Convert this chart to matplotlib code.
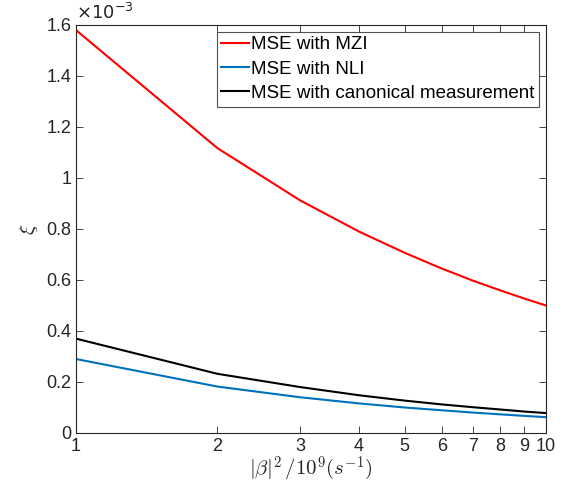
import matplotlib
matplotlib.use("Agg")
import matplotlib.pyplot as plt
from matplotlib.ticker import FixedLocator, FixedFormatter, NullLocator, FuncFormatter

# 数据
beta_sq = [1, 2, 3, 4, 5, 6, 7, 8, 9, 10]
mse_mzi = [1.58e-3, 1.117e-3, 0.912e-3, 0.79e-3, 0.707e-3, 0.645e-3, 0.597e-3, 0.559e-3, 0.527e-3, 0.50e-3]
mse_nli = [0.29e-3, 0.182e-3, 0.14e-3, 0.116e-3, 0.10e-3, 0.089e-3, 0.08e-3, 0.073e-3, 0.067e-3, 0.062e-3]
mse_can = [0.37e-3, 0.232e-3, 0.18e-3, 0.148e-3, 0.127e-3, 0.112e-3, 0.101e-3, 0.092e-3, 0.084e-3, 0.078e-3]
x_ticks = [1, 2, 3, 4, 5, 6, 7, 8, 9, 10]
y_ticks = [0, 0.2e-3, 0.4e-3, 0.6e-3, 0.8e-3, 1.0e-3, 1.2e-3, 1.4e-3, 1.6e-3]

plt.rcParams["font.family"] = ["Liberation Sans", "DejaVu Sans"]
plt.rcParams["mathtext.fontset"] = "cm"

AX_COLOR = "#262626"

fig = plt.figure(figsize=(5.74, 4.95), dpi=100)
ax = fig.add_axes([0.1324, 0.1253, 0.8188, 0.8242])

ax.plot(beta_sq, mse_mzi, color="#FF0000", lw=1.5, label="MSE with MZI")
ax.plot(beta_sq, mse_nli, color="#0072BD", lw=1.5, label="MSE with NLI")
ax.plot(beta_sq, mse_can, color="black", lw=1.5, label="MSE with canonical measurement")

ax.set_xscale("log")
ax.set_xlim(1, 10)
ax.set_ylim(0, 1.6e-3)
ax.xaxis.set_major_locator(FixedLocator(x_ticks))
ax.xaxis.set_major_formatter(FixedFormatter([str(t) for t in x_ticks]))
ax.xaxis.set_minor_locator(NullLocator())
ax.set_yticks(y_ticks)
# MATLAB 风格：刻度写成 0, 0.2, ..., 1, 1.2，指数单独标在左上角
ax.yaxis.set_major_formatter(FuncFormatter(lambda v, p: f"{round(v * 1e3, 3):g}"))
ax.text(0.0, 1.005, r"$\times 10^{-3}$", transform=ax.transAxes, ha="left", va="bottom",
        fontsize=13, color=AX_COLOR, math_fontfamily="dejavusans")

ax.tick_params(direction="in", top=True, right=True, labelsize=13,
               colors=AX_COLOR, length=5, width=0.6)
for s in ax.spines.values():
    s.set_color(AX_COLOR)
    s.set_linewidth(0.8)

ax.set_xlabel(r"$|\beta|^2\,/10^9(s^{-1})$", fontsize=15, color=AX_COLOR, labelpad=0)
ax.set_ylabel(r"$\xi$", fontsize=15, color=AX_COLOR, labelpad=4)

leg = ax.legend(loc="upper right", fontsize=13.5, frameon=True, fancybox=False,
                edgecolor=AX_COLOR, handlelength=1.45, handletextpad=0.15,
                borderpad=0.25, labelspacing=0.38, borderaxespad=0.35)
leg.get_frame().set_linewidth(0.8)

fig.savefig("out.png", dpi=100)
plt.close(fig)
